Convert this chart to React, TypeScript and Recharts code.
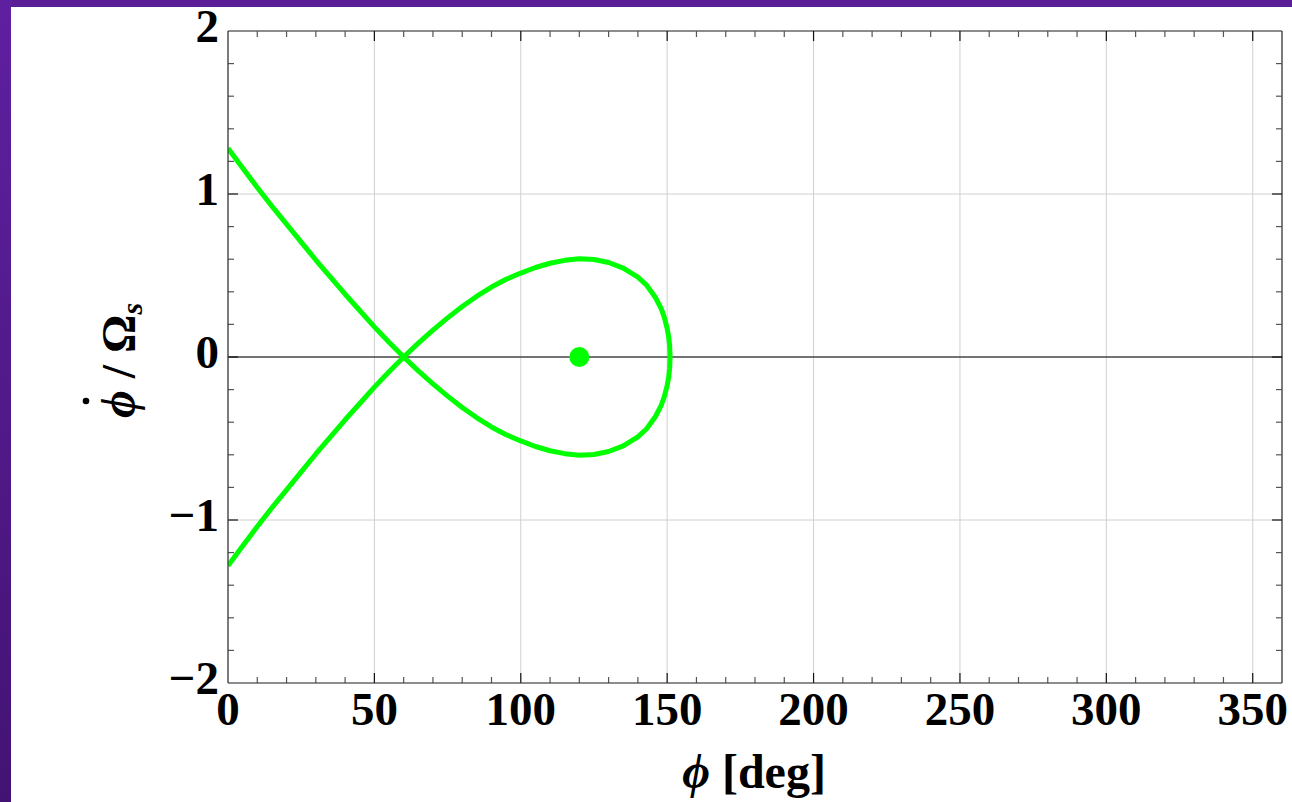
import React from 'react';
import {
  ComposedChart,
  Line,
  Scatter,
  XAxis,
  YAxis,
  CartesianGrid,
  ReferenceLine
} from 'recharts';

// phase angle (deg) and the two branches of the separatrix
const phiDeg = [0, 5, 10, 15, 20, 25, 30, 35, 40, 45, 50, 55, 60, 65, 70, 75, 80, 85, 90, 95, 100, 105, 110, 115, 120, 125, 130, 135, 140, 143, 146, 148, 149, 150, 150.5, 150.85, 151];
const upperBranch = [1.28, 1.16, 1.04, 0.925, 0.815, 0.705, 0.595, 0.49, 0.385, 0.285, 0.185, 0.09, 0, 0.085, 0.165, 0.24, 0.31, 0.373, 0.429, 0.477, 0.515, 0.549, 0.575, 0.593, 0.603, 0.598, 0.58, 0.545, 0.49, 0.44, 0.365, 0.295, 0.245, 0.175, 0.125, 0.07, 0];
const lowerBranch = [-1.28, -1.16, -1.04, -0.925, -0.815, -0.705, -0.595, -0.49, -0.385, -0.285, -0.185, -0.09, 0, -0.085, -0.165, -0.24, -0.31, -0.373, -0.429, -0.477, -0.515, -0.549, -0.575, -0.593, -0.603, -0.598, -0.58, -0.545, -0.49, -0.44, -0.365, -0.295, -0.245, -0.175, -0.125, -0.07, 0];

// fixed point
const centerPhi = [120];
const centerRate = [0];

const xTicks = [0, 50, 100, 150, 200, 250, 300, 350];
const xMinor = [10, 20, 30, 40, 60, 70, 80, 90, 110, 120, 130, 140, 160, 170, 180, 190, 210, 220, 230, 240, 260, 270, 280, 290, 310, 320, 330, 340];
const yTicks = [-2, -1, 0, 1, 2];
const yMinor = [-1.8, -1.6, -1.4, -1.2, -0.8, -0.6, -0.4, -0.2, 0.2, 0.4, 0.6, 0.8, 1.2, 1.4, 1.6, 1.8];

const curveData = phiDeg.map((phi, i) => ({ phi, upper: upperBranch[i], lower: lowerBranch[i] }));
const dotData = centerPhi.map((phi, i) => ({ phi, v: centerRate[i] }));

const GREEN = '#00ff00';
const FRAME = '#333333';
const FONT = '"Liberation Serif", "Times New Roman", serif';

// tick lengths in data units (10px / 6px at this size)
const X_MAJ = 0.062, X_MIN = 0.037;
const Y_MAJ = 3.4, Y_MIN = 2.05;

const XTick = ({ x, payload }: any) => (
  <text x={x} y={725} textAnchor="middle" fontFamily={FONT} fontWeight="bold" fontSize={47} fill="#000">
    {payload.value}
  </text>
);

const YTick = ({ y, payload }: any) => (
  <text x={219} y={y + 11} textAnchor="end" fontFamily={FONT} fontWeight="bold" fontSize={47} fill="#000">
    {payload.value < 0 ? '\u2212' + Math.abs(payload.value) : payload.value}
  </text>
);

const tickSeg = (key: string, a: any, b: any, color: string) => (
  <ReferenceLine key={key} segment={[a, b]} stroke={color} strokeWidth={1.2} ifOverflow="visible" />
);

export default function App() {
  const marks: any[] = [];
  xTicks.forEach((t) => {
    if (t === 0) return;
    marks.push(tickSeg('xb' + t, { x: t, y: -2 }, { x: t, y: -2 + X_MAJ }, '#111'));
    marks.push(tickSeg('xt' + t, { x: t, y: 2 }, { x: t, y: 2 - X_MAJ }, '#111'));
  });
  xMinor.forEach((t) => {
    marks.push(tickSeg('xbm' + t, { x: t, y: -2 }, { x: t, y: -2 + X_MIN }, '#555'));
    marks.push(tickSeg('xtm' + t, { x: t, y: 2 }, { x: t, y: 2 - X_MIN }, '#555'));
  });
  yTicks.forEach((t) => {
    if (t === 2 || t === -2) return;
    marks.push(tickSeg('yl' + t, { x: 0, y: t }, { x: Y_MAJ, y: t }, '#111'));
    marks.push(tickSeg('yr' + t, { x: 360, y: t }, { x: 360 - Y_MAJ, y: t }, '#111'));
  });
  yMinor.forEach((t) => {
    marks.push(tickSeg('ylm' + t, { x: 0, y: t }, { x: Y_MIN, y: t }, '#555'));
    marks.push(tickSeg('yrm' + t, { x: 360, y: t }, { x: 360 - Y_MIN, y: t }, '#555'));
  });

  return (
    <div style={{ position: 'absolute', left: 0, top: 0, width: 1292, height: 802, background: '#fff', overflow: 'hidden' }}>
      <div style={{ position: 'absolute', left: 0, top: 0, width: 1292, height: 7, background: '#5b1e96' }} />
      <div style={{ position: 'absolute', left: 0, top: 0, width: 11, height: 802, background: 'linear-gradient(#5f20a0, #431373)' }} />
      <div style={{ position: 'absolute', left: 0, top: 0 }}>
        <ComposedChart width={1292} height={802} data={curveData} margin={{ top: 31, right: 10, bottom: 59, left: 168 }}>
          <CartesianGrid stroke="#d0d0d0" strokeWidth={1} />
          <XAxis
            dataKey="phi"
            type="number"
            domain={[0, 360]}
            ticks={xTicks}
            tick={<XTick />}
            tickLine={false}
            axisLine={{ stroke: FRAME, strokeWidth: 1.2 }}
            height={60}
            allowDataOverflow
          />
          <YAxis
            type="number"
            domain={[-2, 2]}
            ticks={yTicks}
            tick={<YTick />}
            tickLine={false}
            axisLine={{ stroke: FRAME, strokeWidth: 1.2 }}
            width={60}
            allowDataOverflow
          />
          <ReferenceLine y={2} stroke={FRAME} strokeWidth={1.2} />
          <ReferenceLine x={360} stroke={FRAME} strokeWidth={1.2} />
          <ReferenceLine y={0} stroke="#000" strokeWidth={1.2} />
          {marks}
          <Line dataKey="upper" type="linear" stroke={GREEN} strokeWidth={5} dot={false} isAnimationActive={false} strokeLinejoin="round" />
          <Line dataKey="lower" type="linear" stroke={GREEN} strokeWidth={5} dot={false} isAnimationActive={false} strokeLinejoin="round" />
          <Scatter
            data={dotData}
            dataKey="v"
            isAnimationActive={false}
            shape={(p: any) => <circle cx={p.cx} cy={p.cy} r={10} fill={GREEN} />}
          />
        </ComposedChart>
      </div>
      <svg width={1292} height={802} style={{ position: 'absolute', left: 0, top: 0, pointerEvents: 'none' }}>
        <text x={754} y={788} textAnchor="middle" fontFamily={FONT} fontWeight="bold" fontSize={48} fill="#000">
          <tspan fontStyle="italic">{'\u03D5'}</tspan>
          <tspan> [deg]</tspan>
        </text>
        <g transform="translate(135,358) rotate(-90)">
          <text x={-60} y={0} textAnchor="start" fontFamily={FONT} fontWeight="bold" fontSize={48} fill="#000">
            <tspan fontStyle="italic">{'\u03D5'}</tspan>
            <tspan> / {'\u03A9'}</tspan>
            <tspan fontStyle="italic" fontSize={30} dy={7}>s</tspan>
          </text>
          <circle cx={-43} cy={-49} r={3.3} fill="#000" />
        </g>
      </svg>
    </div>
  );
}
